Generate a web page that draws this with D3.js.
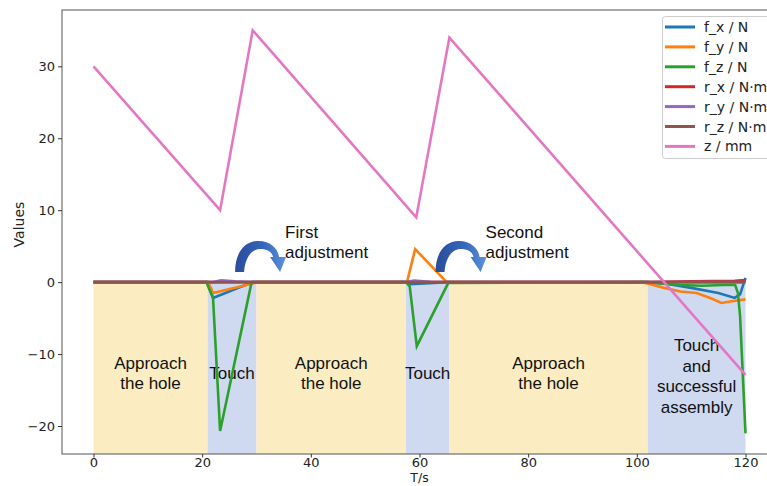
<!DOCTYPE html>
<html><head><meta charset="utf-8">
<script src="https://cdn.jsdelivr.net/npm/d3@7"></script>
<style>html,body{margin:0;padding:0;background:#fff;} svg{display:block;font-family:"Liberation Sans",Arial,sans-serif;}</style>
</head><body>
<svg id="c" width="767" height="486"></svg>
<script>
// ---- data ----
const xTicks = [0, 20, 40, 60, 80, 100, 120];
const yTicks = [-20, -10, 0, 10, 20, 30];
const phaseStart = [0, 21, 30, 57.5, 65.5, 102];
const phaseEnd   = [21, 30, 57.5, 65.5, 102, 120];
const phaseKind  = ["approach", "touch", "approach", "touch", "approach", "touch"];
const phaseLabel = [["Approach","the hole"],["Touch"],["Approach","the hole"],["Touch"],["Approach","the hole"],["Touch","and","successful","assembly"]];

const fxT = [0, 21, 22, 29.3, 57.5, 58.2, 65.3, 102, 106, 110, 115, 118, 119, 120];
const fxV = [0, 0, -2.2, 0, 0, -0.3, 0, 0, -0.3, -0.8, -1.5, -2.2, -1.7, 0.6];
const fyT = [0, 21, 21.6, 22, 29.3, 30, 57.7, 59.2, 65, 101, 102.5, 105, 108, 111, 113.5, 115.6, 117.2, 120];
const fyV = [0, 0, -0.8, -1.5, -0.2, 0, 0, 4.6, 0, 0, -0.3, -0.8, -1.3, -1.5, -2.2, -2.9, -2.7, -2.4];
const fzT = [0, 20.8, 21.1, 22, 23.3, 29.1, 57.5, 58.2, 59.5, 65.3, 102, 108, 112, 116, 118.1, 118.6, 119, 120];
const fzV = [0, 0, -0.6, -2.2, -20.7, 0, 0, -0.6, -8.9, -0.1, 0, -0.4, -0.5, -0.4, -0.4, -1.5, -4.7, -21];
const rxT = [0, 102, 110, 118, 120];
const rxV = [0, 0, 0.1, 0.2, 0.3];
const ryT = [0, 22, 23.5, 26, 29, 57.5, 59, 62, 65, 120];
const ryV = [0, 0, 0.25, 0.1, 0, 0, 0.2, 0.05, 0, 0];
const rzT = [0, 120];
const rzV = [0, 0];
const zT = [0, 23.3, 29.3, 59.4, 65.5, 120];
const zV = [30, 10, 35, 9, 34, -12.9];

const seriesNames = ["f_x / N", "f_y / N", "f_z / N", "r_x / N·m", "r_y / N·m", "r_z / N·m", "z / mm"];
const seriesColors = ["#1f77b4", "#ff7f0e", "#2ca02c", "#d62728", "#9467bd", "#8c564b", "#e377c2"];
const seriesData = [[fxT, fxV], [fyT, fyV], [fzT, fzV], [rxT, rxV], [ryT, ryV], [rzT, rzV], [zT, zV]];

const adjustLabels = [["First", "adjustment"], ["Second", "adjustment"]];
const adjustAt = [23.3, 60.2];

// ---- layout ----
const svg = d3.select("#c");
const frame = {l: 62, t: 10, r: 790, b: 454};
const x = d3.scaleLinear().domain([0, 120]).range([93.5, 745.5]);
const y = d3.scaleLinear().domain([-20, 30]).range([426, 66.3]);
const yBottom = y.invert(frame.b);

const defs = svg.append("defs");
defs.append("clipPath").attr("id", "clip").append("rect")
  .attr("x", frame.l).attr("y", frame.t).attr("width", frame.r - frame.l).attr("height", frame.b - frame.t);
const grad = defs.append("linearGradient").attr("id", "arrowGrad").attr("x1", "0").attr("x2", "1").attr("y1", "0").attr("y2", "0");
grad.append("stop").attr("offset", "0").attr("stop-color", "#2a4c9a");
grad.append("stop").attr("offset", "0.55").attr("stop-color", "#3565b8");
grad.append("stop").attr("offset", "1").attr("stop-color", "#5d93dc");

const plot = svg.append("g").attr("clip-path", "url(#clip)");

// shaded phases
plot.selectAll("rect.phase").data(phaseStart).enter().append("rect")
  .attr("class", "phase")
  .attr("x", (d) => x(d))
  .attr("width", (d, i) => x(phaseEnd[i]) - x(d))
  .attr("y", y(0))
  .attr("height", y(yBottom) - y(0))
  .attr("fill", (d, i) => phaseKind[i] === "approach" ? "#fbecc1" : "#cfdaf1");

// phase labels
phaseStart.forEach((s, i) => {
  const lines = phaseLabel[i];
  const cx = x((s + phaseEnd[i]) / 2);
  const lh = 20.5;
  const midY = lines.length === 4 ? 376 : 373;
  const y0 = midY - (lines.length - 1) * lh / 2 + 6;
  const t = plot.append("text").attr("text-anchor", "middle").attr("font-size", 17).attr("fill", "#111");
  lines.forEach((ln, j) => t.append("tspan").attr("x", cx).attr("y", y0 + j * lh).text(ln));
});

// lines
const line = d3.line().x((d) => x(d[0])).y((d) => y(d[1]));
seriesData.forEach((sd, i) => {
  const pts = sd[0].map((t, k) => [t, sd[1][k]]);
  plot.append("path").attr("d", line(pts)).attr("fill", "none")
    .attr("stroke", seriesColors[i]).attr("stroke-width", 2.6).attr("stroke-linejoin", "miter");
});

// curved arrows + adjustment labels
adjustAt.forEach((t, i) => {
  const g = svg.append("g").attr("transform", `translate(${x(t) + 15},272)`);
  g.append("path")
    .attr("d", "M0 0 C0 -20 10 -31 23 -31 C36 -31 43 -23 44 -15 L51 -15 L45 0 L35 -15 L38 -15 C37 -20 32 -23 25 -23 C17 -23 10 -15 9 0 Z")
    .attr("fill", "url(#arrowGrad)");
  const tx = svg.append("text").attr("font-size", 17).attr("fill", "#111");
  adjustLabels[i].forEach((ln, j) => tx.append("tspan").attr("x", x(t) + 65).attr("y", 238 + j * 20).text(ln));
});

// frame
svg.append("rect").attr("x", frame.l).attr("y", frame.t).attr("width", frame.r - frame.l).attr("height", frame.b - frame.t)
  .attr("fill", "none").attr("stroke", "#555").attr("stroke-width", 1);

// axes
const xa = svg.append("g").attr("transform", `translate(0,${frame.b})`)
  .call(d3.axisBottom(x).tickValues(xTicks).tickFormat(d3.format("d")).tickSizeOuter(0).tickSize(3.5).tickPadding(0.5));
const ya = svg.append("g").attr("transform", `translate(${frame.l},0)`)
  .call(d3.axisLeft(y).tickValues(yTicks).tickFormat((d) => d < 0 ? "\u2212" + Math.abs(d) : d).tickSizeOuter(0).tickSize(4).tickPadding(3));
[xa, ya].forEach((a) => {
  a.select(".domain").remove();
  a.selectAll("text").attr("font-size", 13).attr("fill", "#222").attr("font-family", "'DejaVu Sans', sans-serif");
  a.selectAll("line").attr("stroke", "#333");
});

svg.append("text").attr("x", x(60)).attr("y", 482.3).attr("text-anchor", "middle").attr("font-size", 12.5)
  .attr("font-family", "'DejaVu Sans', sans-serif").attr("fill", "#222").text("T/s");
svg.append("text").attr("transform", `translate(24,${y(8)}) rotate(-90)`).attr("text-anchor", "middle").attr("font-size", 14)
  .attr("font-family", "'DejaVu Sans', sans-serif").attr("fill", "#222").text("Values");

// legend
const lg = svg.append("g");
lg.append("rect").attr("x", 662.5).attr("y", 16.5).attr("width", 110).attr("height", 142).attr("rx", 3)
  .attr("fill", "#fff").attr("fill-opacity", 0.85).attr("stroke", "#ccc");
seriesNames.forEach((n, i) => {
  const yy = 27 + i * 19.9;
  lg.append("line").attr("x1", 665).attr("x2", 695).attr("y1", yy).attr("y2", yy)
    .attr("stroke", seriesColors[i]).attr("stroke-width", 3);
  lg.append("text").attr("x", 704).attr("y", yy + 5).attr("font-size", 14)
    .attr("font-family", "'DejaVu Sans', sans-serif").attr("fill", "#222").text(n);
});
</script>
</body></html>
